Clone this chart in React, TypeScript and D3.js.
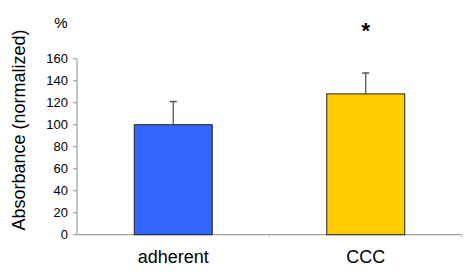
import React from "react";
import * as d3 from "d3";

const categories = ["adherent", "CCC"];
const values = [100, 128];
const errors = [21, 19];
const colors = ["#3366FF", "#FFCC00"];
const yTicks = [0, 20, 40, 60, 80, 100, 120, 140, 160];
const significance = ["", "*"];

const W = 473;
const H = 274;
const left = 77;
const right = 462;
const top = 58.7;
const bottom = 234.7;
const font = "Arial, 'Liberation Sans', sans-serif";

export default function App() {
  const y = d3.scaleLinear().domain([0, 160]).range([bottom, top]);
  const xb = d3.scaleBand<string>().domain(categories).range([left, right]);
  return (
    <svg width={W} height={H} style={{ position: "absolute", left: 0, top: 0, background: "#fff" }}>
      {/* y axis */}
      <line x1={left} x2={left} y1={top} y2={bottom} stroke="#a0a0a0" strokeWidth={1.2} />
      {yTicks.map((t) => (
        <g key={t}>
          <line x1={left - 4} x2={left} y1={y(t)} y2={y(t)} stroke="#a0a0a0" strokeWidth={1.2} />
          <text x={68} y={y(t)} dy="0.36em" textAnchor="end" fontFamily={font} fontSize={13} fill="#000">
            {t}
          </text>
        </g>
      ))}
      {/* x axis */}
      <line x1={left} x2={right} y1={bottom} y2={bottom} stroke="#a0a0a0" strokeWidth={1.2} />
      {categories.map((c) => (
        <line key={c} x1={xb(c)! + xb.bandwidth()} x2={xb(c)! + xb.bandwidth()} y1={bottom} y2={bottom + 3} stroke="#c8c8c8" strokeWidth={1} />
      ))}
      {/* bars */}
      {categories.map((c, i) => {
        const cx = xb(c)! + xb.bandwidth() / 2;
        const w = 78;
        return (
          <g key={c}>
            <line x1={cx} x2={cx} y1={y(values[i])} y2={y(values[i] + errors[i])} stroke="#555" strokeWidth={1.3} />
            <line x1={cx - 3.5} x2={cx + 3.5} y1={y(values[i] + errors[i])} y2={y(values[i] + errors[i])} stroke="#555" strokeWidth={1.5} />
            <rect x={cx - w / 2} y={y(values[i])} width={w} height={bottom - y(values[i])} fill={colors[i]} stroke="#222" strokeWidth={1} />
            <text x={cx} y={257} dy="0.36em" textAnchor="middle" fontFamily={font} fontSize={18} fill="#000">
              {c}
            </text>
            {significance[i] && (
              <text x={cx} y={37.5} textAnchor="middle" fontFamily={font} fontSize={22} fontWeight="bold" fill="#000">
                {significance[i]}
              </text>
            )}
          </g>
        );
      })}
      <text x={61} y={28} textAnchor="middle" fontFamily={font} fontSize={15} fill="#000">%</text>
      <text
        transform={`translate(18.5,130) rotate(-90)`}
        textAnchor="middle"
        dy="0.36em"
        fontFamily={font}
        fontSize={18}
        fill="#000"
      >
        Absorbance (normalized)
      </text>
    </svg>
  );
}
